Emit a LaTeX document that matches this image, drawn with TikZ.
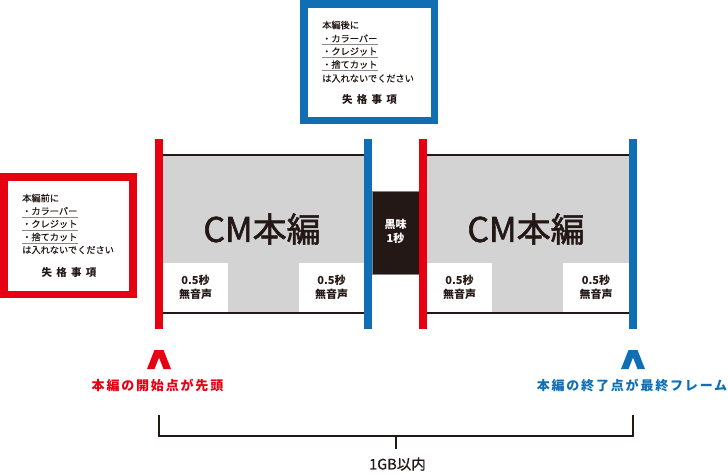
\documentclass[tikz,border=0pt]{standalone}
\usepackage{fontspec}
\setmainfont{Noto Sans CJK JP}
\definecolor{cmred}{HTML}{E60012}
\definecolor{cmblue}{HTML}{106EB4}
\definecolor{cmblack}{HTML}{231815}
\definecolor{cmgray}{HTML}{D3D3D3}
\definecolor{ulgray}{HTML}{8A8A8A}
\tikzset{
  redbar/.style={cmred, line width=7.5pt},
  bluebar/.style={cmblue, line width=7.5pt},
  hline/.style={cmblack, line width=2.5pt},
  note/.style={inner sep=0pt, anchor=west, font=\fontsize{9.2}{10}\selectfont\addfontfeature{FakeBold=0.4}, text=cmblack},
  uline/.style={ulgray, line width=0.6pt},
  bigcm/.style={inner sep=0pt, font=\fontsize{34}{36}\selectfont\addfontfeature{FakeBold=1.6}, text=cmblack},
  mute/.style={inner sep=0pt, align=center, font=\bfseries\fontsize{11}{13.5}\selectfont, text=cmblack},
  lbl/.style={inner sep=0pt, font=\bfseries\fontsize{13}{14}\selectfont\addfontfeature{LetterSpace=14}},
  bracket/.style={cmblack, line width=2.6pt},
  heading/.style={inner sep=0pt, font=\bfseries\fontsize{10.5}{12}\selectfont\addfontfeature{LetterSpace=40}, text=cmblack},
}
\begin{document}
\begin{tikzpicture}[x=1pt,y=-1pt]
\useasboundingbox (0,0) rectangle (728,475);
% gray fills
\fill[cmgray] (163,155) rectangle (364,313);
\fill[cmgray] (427,155) rectangle (629,313);
% white boxes
\fill[white] (163,263) rectangle (228,313);
\fill[white] (299,263) rectangle (364,313);
\fill[white] (427,263) rectangle (492,313);
\fill[white] (563,263) rectangle (629,313);
% black horizontal lines
\draw[hline] (163,155) -- (364,155);
\draw[hline] (163,313) -- (364,313);
\draw[hline] (427,155) -- (629,155);
\draw[hline] (427,313) -- (629,313);
% black box
\node[draw=gray, line width=0.8pt, fill=cmblack, minimum width=47pt, minimum height=83pt, inner sep=0pt] (blk) at (395.5,232.5) {};
\node[mute, text=white] (blktxt) at (395.5,231.5) {黒味\\1秒};
% vertical bars
\draw[redbar] (159,139) coordinate (r1t) -- (159,329) coordinate (r1b);
\draw[bluebar] (368,139) coordinate (b1t) -- (368,329) coordinate (b1b);
\draw[redbar] (423,139) coordinate (r2t) -- (423,329) coordinate (r2b);
\draw[bluebar] (633,139) coordinate (b2t) -- (633,329) coordinate (b2b);
% CM text
\node[bigcm] (cm1) at (262,229) {CM本編};
\node[bigcm] (cm2) at (526,229) {CM本編};
% mute boxes
\node[mute] (m1) at (195.5,287.5) {0.5秒\\無音声};
\node[mute] (m2) at (331.5,287.5) {0.5秒\\無音声};
\node[mute] (m3) at (459.5,287.5) {0.5秒\\無音声};
\node[mute] (m4) at (596,287.5) {0.5秒\\無音声};
% left red note box
\draw[cmred, line width=7.5pt, fill=white] (3.75,177) rectangle (133,294.5);
\node[note] (a0) at (22,198) {本編前に};
\node[note] (a1) at (22,211) {・カラーバー};
\node[note] (a2) at (22,224) {・クレジット};
\node[note] (a3) at (22,237) {・捨てカット};
\node[note] (a4) at (22,250) {は入れないでください};
\node[heading] (a5) at (69,273) {失格事項};
\draw[uline] ([yshift=-1.8pt]a1.south west) -- ([yshift=-1.8pt]a1.south east);
\draw[uline] ([yshift=-1.8pt]a2.south west) -- ([yshift=-1.8pt]a2.south east);
\draw[uline] ([yshift=-1.8pt]a3.south west) -- ([yshift=-1.8pt]a3.south east);
% top blue note box
\draw[cmblue, line width=7.5pt, fill=white] (303.75,3.75) rectangle (434.25,120.5);
\node[note] (b0) at (322,25) {本編後に};
\node[note] (b1) at (322,38.5) {・カラーバー};
\node[note] (b2) at (322,51.5) {・クレジット};
\node[note] (b3) at (322,64.5) {・捨てカット};
\node[note] (b4) at (322,78.5) {は入れないでください};
\node[heading] (b5) at (369.5,100) {失格事項};
\draw[uline] ([yshift=-1.8pt]b1.south west) -- ([yshift=-1.8pt]b1.south east);
\draw[uline] ([yshift=-1.8pt]b2.south west) -- ([yshift=-1.8pt]b2.south east);
\draw[uline] ([yshift=-1.8pt]b3.south west) -- ([yshift=-1.8pt]b3.south east);
% carets
\fill[cmred] (147,369) -- (154.5,350) -- (163.5,350) -- (171,369) -- (163.5,369) -- (159,357.5) -- (154.5,369) -- cycle;
\fill[cmblue] (621,369) -- (628.5,350) -- (637.5,350) -- (645,369) -- (637.5,369) -- (633,357.5) -- (628.5,369) -- cycle;
\node[lbl, text=cmred] (lstart) at (157.5,385.5) {本編の開始点が先頭};
\node[lbl, text=cmblue] (lend) at (632,385.5) {本編の終了点が最終フレーム};
% bracket
\coordinate (k1) at (159,415);
\coordinate (k2) at (633,415);
\coordinate (km) at (396,436);
\draw[bracket] (k1) -- (159,436) -- (633,436) -- (k2);
\draw[bracket] (km) -- (396,449) coordinate (kt);
\node[inner sep=0pt, font=\fontsize{14.5}{16}\selectfont\addfontfeature{FakeBold=0.8}, text=cmblack] (gb) at (397.5,464) {1GB以内};
\end{tikzpicture}
\end{document}
